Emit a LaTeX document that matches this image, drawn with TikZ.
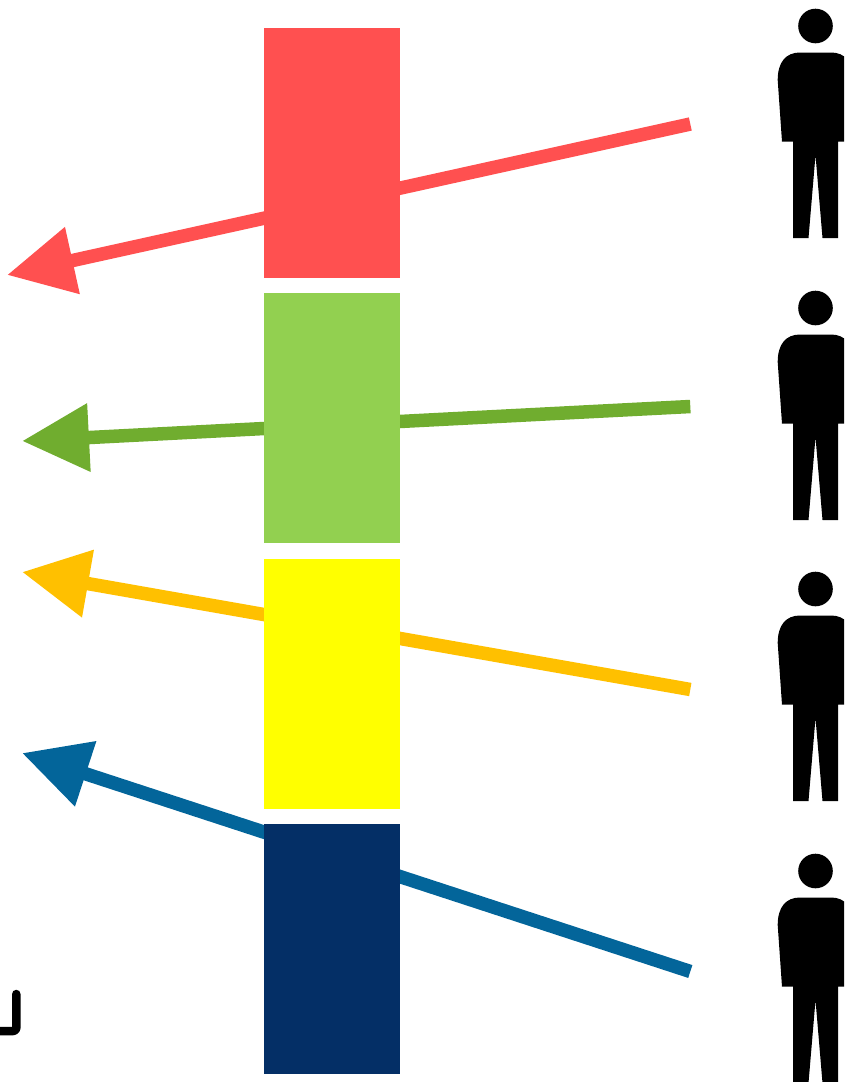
\documentclass[tikz,border=0pt]{standalone}
\usetikzlibrary{arrows.meta}
\definecolor{redc}{HTML}{FF5050}
\definecolor{greenbar}{HTML}{92D050}
\definecolor{greenarrow}{HTML}{70AD2F}
\definecolor{yellowbar}{HTML}{FFFF00}
\definecolor{yellowarrow}{HTML}{FFC000}
\definecolor{navybar}{HTML}{042F66}
\definecolor{bluearrow}{HTML}{03659A}
\tikzset{
  flow/.style={line width=13.5pt,-{Triangle[length=67pt,width=65pt]}},
  bar/.style={minimum width=136pt,minimum height=250pt,inner sep=0pt,outer sep=0pt,draw=none,anchor=north west},
  person/.pic={
    \fill[black] (815.5,26) circle (17.3);
    \fill[black] (800,52.5) -- (831,52.5) .. controls (845,52.5) and (853,62) .. (853,80)
      -- (849,141.7) -- (838,141.7) -- (838,238) -- (822.5,238) -- (815.5,155) -- (808.5,238)
      -- (793,238) -- (793,141.7) -- (782,141.7) -- (777.7,80)
      .. controls (777.7,62) and (786,52.5) .. (800,52.5) -- cycle;
  }
}
\begin{document}
\begin{tikzpicture}[x=1pt,y=-1pt]
\useasboundingbox (0,0) rectangle (844,1082);
\clip (0,0) rectangle (844,1082);
\coordinate (rs) at (690.3,124);  \coordinate (re) at (7,275);
\coordinate (gs) at (690.3,406.5);  \coordinate (ge) at (22,441);
\coordinate (ys) at (690.3,689.5);  \coordinate (ye) at (22,572);
\coordinate (bs) at (690.3,971.5);  \coordinate (be) at (22,753);
\draw[flow,color=redc] (rs) -- (re);
\draw[flow,color=greenarrow] (gs) -- (ge);
\draw[flow,color=yellowarrow] (ys) -- (ye);
\draw[flow,color=bluearrow] (bs) -- (be);
\node[bar,fill=redc] (barR) at (264,28) {};
\node[bar,fill=greenbar] (barG) at (264,293) {};
\node[bar,fill=yellowbar] (barY) at (264,559) {};
\node[bar,fill=navybar] (barB) at (264,824) {};
\pic at (0,0) {person};
\pic at (0,282) {person};
\pic at (0,563) {person};
\pic at (0,845) {person};
\draw[line width=8.5pt,line cap=round,line join=round,rounded corners=3pt] (16.3,994) -- (16.3,1031) -- (-6,1031);
\end{tikzpicture}
\end{document}
